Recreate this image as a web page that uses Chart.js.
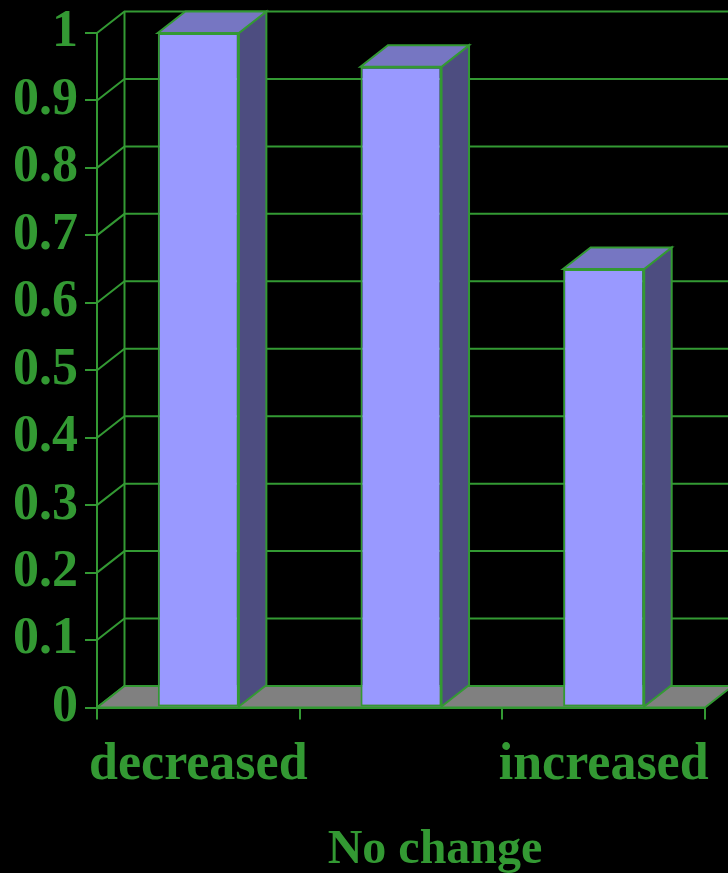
<!DOCTYPE html>
<html>
<head>
<meta charset="utf-8">
<script src="https://cdn.jsdelivr.net/npm/chart.js@4/dist/chart.umd.min.js"></script>
<style>
  html, body { margin: 0; padding: 0; background: #000; }
  canvas { display: block; }
</style>
</head>
<body>
<canvas id="chart" width="728" height="873"></canvas>
<script>
// Categories and bar values
const categories = ['decreased', 'No change', 'increased'];
const values = [1.0, 0.95, 0.65];
const yTickLabels = ['0', '0.1', '0.2', '0.3', '0.4', '0.5', '0.6', '0.7', '0.8', '0.9', '1'];

const GREEN = '#339933';
const FONT_FAMILY = '"Liberation Serif", "Times New Roman", serif';
const FONT_SIZE = 52;
const LOWER_LABEL_SIZE = 48;
const DEPTH_X = 27.5;   // horizontal depth of the 3D box
const DEPTH_Y = 21.5;   // vertical depth of the 3D box

// Draws the floor, back/side walls with grid lines, and the top/side faces of each bar
const box3d = {
  id: 'box3d',
  beforeDatasetsDraw(chart) {
    const { ctx, chartArea: a, scales: { y } } = chart;
    ctx.save();
    ctx.lineWidth = 2;
    ctx.strokeStyle = GREEN;
    ctx.lineJoin = 'miter';
    const y0 = y.getPixelForValue(0);

    // grid lines on the side wall and back wall
    y.ticks.forEach(t => {
      const py = y.getPixelForValue(t.value);
      ctx.beginPath();
      ctx.moveTo(a.left, py);
      ctx.lineTo(a.left + DEPTH_X, py - DEPTH_Y);
      ctx.lineTo(chart.width, py - DEPTH_Y);
      ctx.stroke();
    });
    // back wall left edge
    ctx.beginPath();
    ctx.moveTo(a.left + DEPTH_X, y.getPixelForValue(y.max) - DEPTH_Y);
    ctx.lineTo(a.left + DEPTH_X, y0 - DEPTH_Y);
    ctx.stroke();

    // floor
    ctx.beginPath();
    ctx.moveTo(a.left, y0);
    ctx.lineTo(a.right, y0);
    ctx.lineTo(a.right + DEPTH_X, y0 - DEPTH_Y);
    ctx.lineTo(a.left + DEPTH_X, y0 - DEPTH_Y);
    ctx.closePath();
    ctx.fillStyle = '#808080';
    ctx.fill();
    ctx.stroke();

    // side and top faces of the bars
    chart.getDatasetMeta(0).data.forEach(bar => {
      const { x: cx, y: top, width, base } = bar.getProps(['x', 'y', 'width', 'base'], true);
      const l = cx - width / 2, r = cx + width / 2;
      ctx.beginPath();
      ctx.moveTo(r, base);
      ctx.lineTo(r, top);
      ctx.lineTo(r + DEPTH_X, top - DEPTH_Y);
      ctx.lineTo(r + DEPTH_X, base - DEPTH_Y);
      ctx.closePath();
      ctx.fillStyle = '#4d4d80';
      ctx.fill();
      ctx.stroke();

      ctx.beginPath();
      ctx.moveTo(l, top);
      ctx.lineTo(r, top);
      ctx.lineTo(r + DEPTH_X, top - DEPTH_Y);
      ctx.lineTo(l + DEPTH_X, top - DEPTH_Y);
      ctx.closePath();
      ctx.fillStyle = '#7676c2';
      ctx.fill();
      ctx.stroke();
    });
    ctx.restore();
  },
  // staggered category labels under the x axis
  afterDraw(chart) {
    const { ctx, scales: { x } } = chart;
    ctx.save();
    ctx.fillStyle = GREEN;
    ctx.textAlign = 'center';
    ctx.textBaseline = 'alphabetic';
    chart.data.labels.forEach((label, i) => {
      const odd = i % 2 === 1;
      ctx.font = `bold ${odd ? LOWER_LABEL_SIZE : FONT_SIZE}px ${FONT_FAMILY}`;
      const px = x.getPixelForValue(i) + (odd ? 34 : 0);
      const py = odd ? 863 : 779;
      ctx.fillText(label, px, py);
    });
    ctx.restore();
  }
};

new Chart(document.getElementById('chart'), {
  type: 'bar',
  data: {
    labels: categories,
    datasets: [{
      data: values,
      backgroundColor: '#9999ff',
      borderColor: GREEN,
      borderWidth: 2,
      borderSkipped: false,
      categoryPercentage: 1,
      barPercentage: 0.4
    }]
  },
  options: {
    responsive: false,
    animation: false,
    layout: { padding: { top: 30, right: 23, left: 0, bottom: 0 } },
    plugins: { legend: { display: false }, tooltip: { enabled: false } },
    scales: {
      x: {
        grid: {
          display: true, drawOnChartArea: false, offset: true,
          color: GREEN, lineWidth: 2, tickLength: 12
        },
        border: { display: true, color: GREEN, width: 2 },
        ticks: { display: false },
        afterFit(s) { s.height = 165.5; }
      },
      y: {
        min: 0,
        max: 1,
        ticks: {
          stepSize: 0.1,
          color: GREEN,
          padding: 7,
          font: { family: FONT_FAMILY, size: FONT_SIZE, weight: 'bold', lineHeight: 1 },
          callback: (v, i) => yTickLabels[i]
        },
        grid: { drawOnChartArea: false, color: GREEN, lineWidth: 2, tickLength: 12 },
        border: { display: true, color: GREEN, width: 2 },
        afterFit(s) { s.width = 97; }
      }
    }
  },
  plugins: [box3d]
});
</script>
</body>
</html>
